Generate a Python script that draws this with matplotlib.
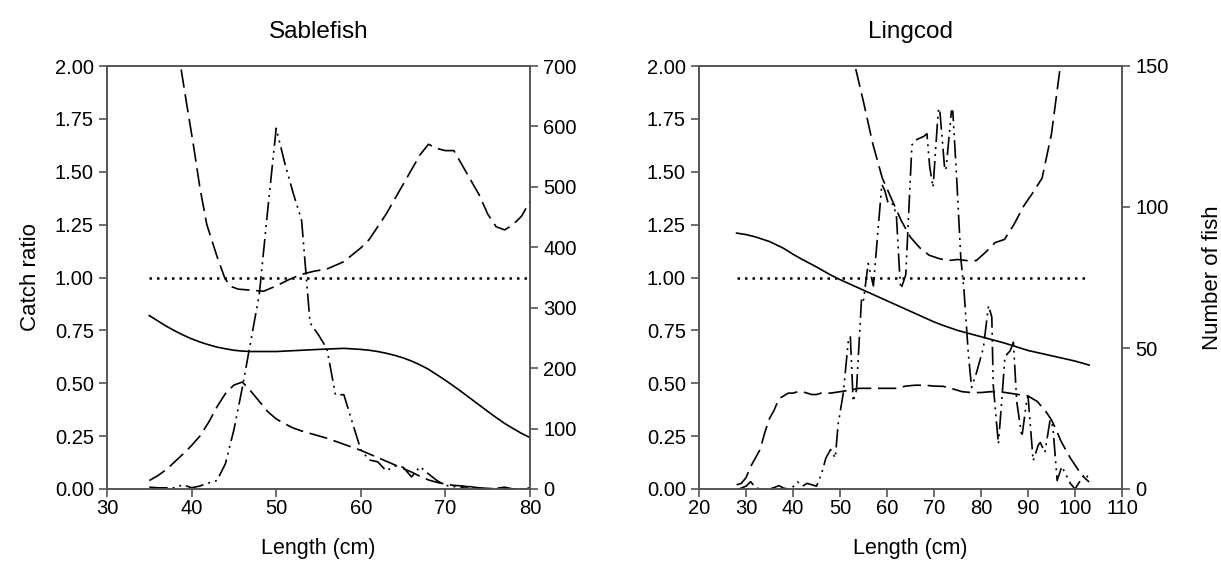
import numpy as np
import matplotlib
matplotlib.use("Agg")
import matplotlib.pyplot as plt

plt.rcParams['font.family'] = ['Liberation Sans', 'DejaVu Sans']

# ---- Sablefish ----
sab_fit_len = [35, 36, 37, 38, 39, 40, 41, 42, 43, 44, 45, 46, 47, 50, 55, 58, 60, 61, 62, 63, 64, 65, 66,
               67, 68, 69, 70, 71, 72, 73, 74, 75, 76, 77, 78, 79, 80]
sab_fit = [0.82, 0.795, 0.77, 0.748, 0.728, 0.71, 0.695, 0.682, 0.671, 0.663, 0.656, 0.652, 0.65, 0.65,
           0.66, 0.665, 0.66, 0.656, 0.65, 0.642, 0.632, 0.62, 0.605, 0.587, 0.566, 0.54, 0.514, 0.486,
           0.457, 0.427, 0.397, 0.367, 0.338, 0.31, 0.286, 0.263, 0.243]

sab_ci_len = [38.3, 38.7, 39.5, 40.2, 41, 41.8, 43, 43.9, 44.5, 45.5, 47, 48.5, 50, 51.5, 53, 54.5, 56,
              58, 60, 61, 62, 63, 64, 65, 66, 67, 68, 69, 70, 71, 72, 73, 74, 75, 76, 77, 78, 79, 80]
sab_ci = [2.1, 2.0, 1.8, 1.63, 1.42, 1.25, 1.1, 1.0, 0.96, 0.945, 0.94, 0.935, 0.96, 0.99, 1.015, 1.03, 1.04,
          1.075, 1.14, 1.18, 1.24, 1.30, 1.37, 1.44, 1.51, 1.58, 1.63, 1.61, 1.60, 1.60, 1.53, 1.46, 1.39, 1.30,
          1.24, 1.225, 1.25, 1.29, 1.36]

sab_len = list(range(35, 81))
sab_n1 = [14, 22, 32, 45, 58, 72, 88, 110, 136, 158, 172, 177, 162, 145, 128, 116, 108, 101, 96, 92, 88, 84,
          79, 74, 69, 64, 58, 52, 46, 40, 34, 28, 21, 15, 11, 8, 6, 5, 3, 2, 1, 0, 0, 0, 0, 0]
sab_n2 = [3, 2, 2, 2, 7, 2, 5, 10, 14, 42, 98, 168, 245, 322, 462, 597, 540, 490, 445, 275, 255, 232,
          156, 156, 110, 65, 48, 45, 30, 38, 36, 20, 37, 25, 14, 6, 4, 3, 4, 1, 0, 1, 3, 0, 0, 2]

# ---- Lingcod ----
lin_fit_len = [28, 30, 32, 35, 38, 40, 42, 45, 48, 50, 52, 55, 58, 60, 62, 65, 68, 70, 72, 75, 78, 80,
               82, 85, 88, 90, 92, 95, 98, 100, 103]
lin_fit = [1.21, 1.203, 1.192, 1.17, 1.138, 1.11, 1.085, 1.05, 1.012, 0.99, 0.97, 0.94, 0.91, 0.89, 0.87,
           0.84, 0.81, 0.79, 0.773, 0.75, 0.732, 0.72, 0.708, 0.69, 0.669, 0.655, 0.645, 0.63, 0.615, 0.605,
           0.586]

lin_ci_len = [52, 53.2, 55, 57, 59, 61, 63, 65, 67, 69, 71, 73, 75, 77, 79, 81, 83, 85, 87, 89, 91, 93, 95, 97, 98]
lin_ci = [2.1, 2.0, 1.83, 1.63, 1.47, 1.37, 1.27, 1.19, 1.14, 1.105, 1.09, 1.08, 1.085, 1.08, 1.08, 1.12,
          1.165, 1.18, 1.25, 1.335, 1.40, 1.47, 1.68, 2.02, 2.2]

lin_n1_len = [28, 29, 30, 31, 32, 33, 34, 35, 36, 37, 38, 39, 40, 41, 42, 43, 44, 45, 46, 48, 50, 52, 54, 56,
              58, 60, 62, 64, 66, 68, 70, 72, 74, 76, 78, 80, 82, 84, 86, 88, 90, 91, 92, 93, 94, 95, 96, 97,
              98, 99, 100, 101, 102, 103]
lin_n1 = [1.5, 2, 4, 8, 11, 14, 20, 25, 28, 32, 33, 34, 34, 34.5, 34.5, 34, 33.5, 33.5, 34, 34, 34.5, 35,
          35.7, 35.7, 35.7, 35.7, 35.7, 36.5, 36.8, 36.8, 36.5, 36.4, 35.5, 34.5, 34.2, 34.2, 34.5, 34.5, 34,
          33.5, 33, 32, 31, 29, 27, 24.5, 21, 17, 14, 11, 8.5, 6, 4, 2.5]

lin_n2_len = [28.5, 30, 31, 32, 33, 35, 36, 37, 38, 39, 40, 41, 42, 43, 44, 45, 46, 47, 48, 49, 49.6, 50.7,
              51.8, 52.2, 52.8, 53.5, 54.6, 55, 56, 57.1, 58.9, 59.5, 60.3, 61.3, 62, 62.8, 63, 64, 65.3, 66.4,
              67.8, 68.5, 69.1, 69.8, 70.9, 71.2, 72.3, 72.6, 73.7, 74, 74.8, 75.7, 76.4, 77.3, 78, 79, 80.5,
              81.6, 82.3, 82.6, 83.7, 84.4, 85.1, 86.2, 86.9, 87.6, 88.7, 89.7, 90, 91.1, 92.2, 92.6, 93.6,
              94.7, 95.3, 96.2, 97.2, 99, 100, 102.1, 102.8]
lin_n2 = [0, 1, 2.6, 0.5, 0, 0, 0.5, 1.2, 0.3, 0, 0.8, 2.5, 1, 2, 1.5, 1, 5, 11, 14, 11, 23, 34,
          53, 54, 31, 35, 68, 67, 80, 72, 108, 106, 101, 101, 97, 73, 71, 76, 122, 124,
          125, 126, 114, 107, 134, 135, 113, 114, 134, 134, 111, 82, 70, 48, 36, 41, 50,
          65, 61, 37, 16, 31, 47, 49, 52, 31, 18.5, 31, 33, 10, 15.6, 16.5, 13,
          24.5, 22, 3, 8, 2, 0, 5.5, 4]

dash = (0, (11, 4))
dashdotdot = (0, (11, 3, 1.2, 3, 1.2, 3))
dotted = (0, (1, 2))
lw = 1.2
spine_col = '#555555'


def style(ax):
    for s in ax.spines.values():
        s.set_color(spine_col)
        s.set_linewidth(1.2)
    ax.tick_params(direction='out', length=6, width=1.2, color=spine_col, labelsize=14.5)
    ax.tick_params(axis='x', pad=1.5)


fig = plt.figure(figsize=(12.21, 5.76), dpi=100)
ax1 = fig.add_axes([107 / 1221, 87 / 576, 423 / 1221, 423 / 576])
ax2 = fig.add_axes([699 / 1221, 87 / 576, 423 / 1221, 423 / 576])

# Sablefish panel
ax1.plot(sab_fit_len, sab_fit, color='black', lw=lw)
ax1.plot(sab_ci_len, sab_ci, color='black', lw=lw, ls=dash)
ax1.plot([35, 80], [1, 1], color='black', lw=1.8, ls=dotted)
ax1.set_xlim(30, 80)
ax1.set_ylim(0, 2)
ax1.set_yticks(np.arange(0, 2.01, 0.25))
ax1.set_yticklabels(['%.2f' % v for v in np.arange(0, 2.01, 0.25)])
ax1.set_xticks(range(30, 81, 10))
ax1.set_xlabel('Length (cm)', fontsize=15.5, labelpad=14)
ax1.set_ylabel('Catch ratio', fontsize=16, labelpad=10)
ax1.set_title('Sablefish', fontsize=17.5, pad=20)
style(ax1)
t1 = ax1.twinx()
t1.plot(sab_len, sab_n1, color='black', lw=lw, ls=dash)
t1.plot(sab_len, sab_n2, color='black', lw=lw, ls=dashdotdot)
t1.set_ylim(0, 700)
t1.set_yticks(range(0, 701, 100))
style(t1)

# Lingcod panel
ax2.plot(lin_fit_len, lin_fit, color='black', lw=lw)
ax2.plot(lin_ci_len, lin_ci, color='black', lw=lw, ls=dash)
ax2.plot([28, 103], [1, 1], color='black', lw=1.8, ls=dotted)
ax2.set_xlim(20, 110)
ax2.set_ylim(0, 2)
ax2.set_yticks(np.arange(0, 2.01, 0.25))
ax2.set_yticklabels(['%.2f' % v for v in np.arange(0, 2.01, 0.25)])
ax2.set_xticks(range(20, 111, 10))
ax2.set_xlabel('Length (cm)', fontsize=15.5, labelpad=14)
ax2.set_title('Lingcod', fontsize=17.5, pad=20)
style(ax2)
t2 = ax2.twinx()
t2.plot(lin_n1_len, lin_n1, color='black', lw=lw, ls=dash)
t2.plot(lin_n2_len, lin_n2, color='black', lw=lw, ls=dashdotdot)
t2.set_ylim(0, 150)
t2.set_yticks(range(0, 151, 50))
t2.set_ylabel('Number of fish', fontsize=16, labelpad=24)
style(t2)

fig.savefig('out.png', dpi=100)
